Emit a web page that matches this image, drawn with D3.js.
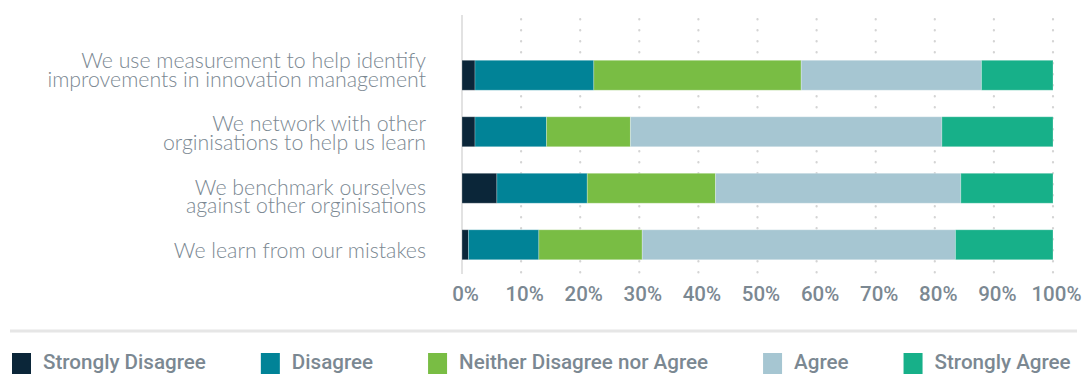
<!DOCTYPE html>
<html>
<head>
<meta charset="utf-8">
<script src="https://cdn.jsdelivr.net/npm/d3@7"></script>
<style>
  html, body { margin: 0; padding: 0; background: #fff; }
  svg { display: block; }
</style>
</head>
<body>
<svg id="chart" width="1087" height="374"></svg>
<script>
// Survey statements (line breaks mark where the label wraps)
const categories = [
  "We use measurement to help identify\nimprovements in innovation management",
  "We network with other\norginisations to help us learn",
  "We benchmark ourselves\nagainst other orginisations",
  "We learn from our mistakes"
];

// Response shares (%) per statement, in category order
const stronglyDisagree = [2.2, 2.2, 5.9, 1.1];
const disagree         = [20.1, 12.1, 15.3, 11.9];
const neither          = [35.1, 14.2, 21.7, 17.5];
const agree            = [30.5, 52.7, 41.5, 53.0];
const stronglyAgree    = [12.1, 18.8, 15.6, 16.5];

const seriesNames = ["Strongly Disagree", "Disagree", "Neither Disagree nor Agree", "Agree", "Strongly Agree"];
const seriesColors = ["#0b2639", "#018397", "#79bd44", "#a6c6d2", "#17b089"];
const tickValues = [0, 10, 20, 30, 40, 50, 60, 70, 80, 90, 100];

const seriesValues = [stronglyDisagree, disagree, neither, agree, stronglyAgree];
const rows = categories.map((c, i) => {
  const r = { category: c };
  seriesNames.forEach((s, k) => { r[s] = seriesValues[k][i]; });
  return r;
});

const svg = d3.select("#chart");
const textColor = "#7b8892";

const x = d3.scaleLinear().domain([0, 100]).range([462, 1053]);
const y = d3.scaleBand().domain(categories).range([47, 273]).paddingInner(0.47).paddingOuter(0.235);
const labelY = d3.scalePoint().domain(categories).range([68, 258]);
const color = d3.scaleOrdinal().domain(seriesNames).range(seriesColors);

// Dotted vertical gridlines
svg.append("g")
  .selectAll("line")
  .data(tickValues.filter(d => d > 0))
  .join("line")
  .attr("x1", d => x(d)).attr("x2", d => x(d))
  .attr("y1", 19).attr("y2", 274)
  .attr("stroke", "#d4d4d4")
  .attr("stroke-width", 2.2)
  .attr("stroke-linecap", "round")
  .attr("stroke-dasharray", "0.5,10.5");

// Baseline at 0%
svg.append("line")
  .attr("x1", x(0)).attr("x2", x(0))
  .attr("y1", 15).attr("y2", 274)
  .attr("stroke", "#e2e2e2")
  .attr("stroke-width", 2);

// Stacked bars
const stacked = d3.stack().keys(seriesNames)(rows);
svg.append("g")
  .selectAll("g")
  .data(stacked)
  .join("g")
  .attr("fill", d => color(d.key))
  .selectAll("rect")
  .data(d => d)
  .join("rect")
  .attr("x", d => x(d[0]))
  .attr("width", d => x(d[1]) - x(d[0]))
  .attr("y", d => y(d.data.category))
  .attr("height", y.bandwidth())
  .attr("stroke", "rgba(255,255,255,0.25)")
  .attr("stroke-width", 1);

// Category labels
const labels = svg.append("g")
  .attr("font-family", "Lato, sans-serif")
  .attr("font-weight", 300)
  .attr("font-size", 21.3)
  .attr("fill", textColor)
  .attr("text-anchor", "end");
categories.forEach(c => {
  const t = labels.append("text").attr("x", 426).attr("y", labelY(c));
  c.split("\n").forEach((line, i) => {
    t.append("tspan").attr("x", 426).attr("dy", i === 0 ? 0 : 18.7).text(line);
  });
});

// X axis tick labels
const xAxis = d3.axisBottom(x).tickValues(tickValues).tickFormat(d => d + "%").tickSize(0);
const axisG = svg.append("g").attr("transform", "translate(0,280)").call(xAxis);
axisG.select(".domain").remove();
axisG.selectAll("text")
  .attr("dy", 0)
  .attr("y", 21)
  .attr("dx", 3)
  .attr("fill", textColor)
  .attr("font-family", "Roboto, sans-serif")
  .attr("font-weight", 500)
  .attr("font-size", 20.5);

// Separator above legend
svg.append("line")
  .attr("x1", 10).attr("x2", 1077)
  .attr("y1", 331).attr("y2", 331)
  .attr("stroke", "#e6e6e6")
  .attr("stroke-width", 3);

// Legend
const legend = svg.append("g");
let lx = 12;
seriesNames.forEach(name => {
  const item = legend.append("g");
  item.append("rect")
    .attr("x", lx).attr("y", 353)
    .attr("width", 19).attr("height", 24)
    .attr("fill", color(name));
  const t = item.append("text")
    .attr("x", lx + 31).attr("y", 369)
    .attr("fill", textColor)
    .attr("font-family", "Roboto, sans-serif")
    .attr("font-weight", 500)
    .attr("font-size", 20.6)
    .text(name);
  lx = lx + 31 + t.node().getComputedTextLength() + 55;
});
</script>
</body>
</html>
